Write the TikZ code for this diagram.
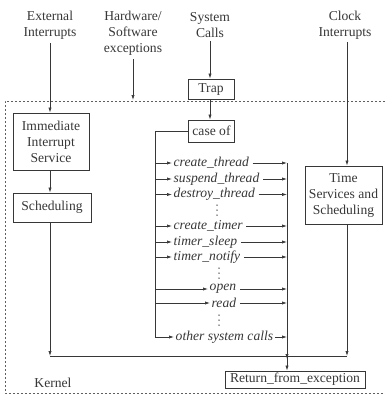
\documentclass[tikz,border=0pt]{standalone}
\usepackage{fontspec}
\setmainfont{Liberation Serif}
\usetikzlibrary{arrows.meta}
\definecolor{ink}{RGB}{55,55,55}
\tikzset{
  lbl/.style={align=center, inner sep=0pt, text=ink, font=\fontsize{13.6}{16}\selectfont},
  boxnode/.style={draw=ink, line width=0.8pt, align=center, inner sep=1pt, text=ink, font=\fontsize{13.6}{16}\selectfont},
  fn/.style={anchor=west, inner sep=1.5pt, text=ink, font=\fontsize{13.6}{16}\selectfont\itshape},
  arr/.style={draw=ink, line width=0.7pt, -{Latex[length=5pt,width=3.2pt]}},
  ln/.style={draw=ink, line width=0.7pt},
  kern/.style={draw=ink!80, line width=0.5pt, dash pattern=on 2pt off 2pt},
  dotmark/.style={fill=ink}
}
\begin{document}
\begin{tikzpicture}[x=1pt,y=-1pt]
\useasboundingbox (0,0) rectangle (385,397);
% kernel boundary
\draw[kern] (385,101) -- (5,101) -- (5,393) -- (385,393);
% sources
\node[lbl] (ext) at (50,25) {External\\Interrupts};
\node[lbl] (hw) at (133,33) {Hardware/\\Software\\exceptions};
\node[lbl] (sys) at (210,25) {System\\Calls};
\node[lbl] (clk) at (345,25) {Clock\\Interrupts};
\coordinate (ktop) at (133,100);
% boxes
\node[boxnode, minimum width=76pt, minimum height=57pt] (imm) at (51,141.5) {Immediate\\Interrupt\\Service};
\node[boxnode, minimum width=78pt, minimum height=29pt] (sched) at (52,207.5) {Scheduling};
\node[boxnode, minimum width=46pt, minimum height=20pt] (trap) at (211,89) {Trap};
\node[boxnode, minimum width=46pt, minimum height=22pt] (case) at (211.5,131) {case of};
\node[boxnode, minimum width=77pt, minimum height=58pt] (time) at (343.5,195) {Time\\Services and\\Scheduling};
\node[boxnode, minimum width=140pt, minimum height=17pt] (ret) at (295,379.5) {Return\_from\_exception};
\node[lbl] (kernel) at (53,383) {Kernel};
% arrows from sources
\draw[arr] (ext.south) ++(0,4) coordinate (e1) -- (e1 |- imm.north);
\draw[arr] (hw.south) ++(0,4) coordinate (h1) -- (ktop);
\draw[arr] (sys.south) ++(0,3) coordinate (s1) -- (s1 |- trap.north);
\draw[arr] (trap.south -| s1) -- (s1 |- case.north);
\draw[arr] (clk.south) ++(2,3) coordinate (c1) -- (c1 |- time.north);
\draw[arr] (imm.south -| e1) -- (e1 |- sched.north);
% function list
\coordinate (stem) at (155,131);
\coordinate (col) at (287,163);
\coordinate (bus) at (287,356);
\node[fn] (ct) at (172,163) {create\_thread};
\node[fn] (st) at (172,179) {suspend\_thread};
\node[fn] (dt) at (172,194.5) {destroy\_thread};
\node[fn] (cm) at (172,226) {create\_timer};
\node[fn] (ts) at (172,242) {timer\_sleep};
\node[fn] (tn) at (172,257) {timer\_notify};
\node[fn] (op) at (208,289) {open};
\node[fn] (rd) at (210,303) {read};
\node[fn] (os) at (174,337) {other system calls};
% vertical ellipses
\foreach \x/\y in {217/210, 219/273, 219/320}{
  \foreach \d in {-5,0,5}{
    \fill[dotmark] (\x,\y+\d) circle (0.75pt);
  }
}
% stem
\draw[ln] (case.west) -- (stem);
\draw[arr] (stem) -- (stem |- os) -- (os.west);
\foreach \n in {ct,st,dt,cm,ts,tn,op,rd}{
  \draw[arr] (stem |- \n) -- (\n.west);
  \draw[arr] (\n.east) ++(2,0) -- (col |- \n);
}
\draw[arr] (os.east) -- (col |- os);
% collector and bus
\draw[arr] (col) -- ([yshift=-3pt]bus);
\draw[arr] (bus) -- (col |- ret.north);
\coordinate (b0) at (sched.south -| e1);
\draw[arr] (b0) -- (b0 |- bus);
\draw[arr] (time.south -| c1) -- (c1 |- bus);
\draw[ln] (b0 |- bus) -- (c1 |- bus);
\end{tikzpicture}
\end{document}
